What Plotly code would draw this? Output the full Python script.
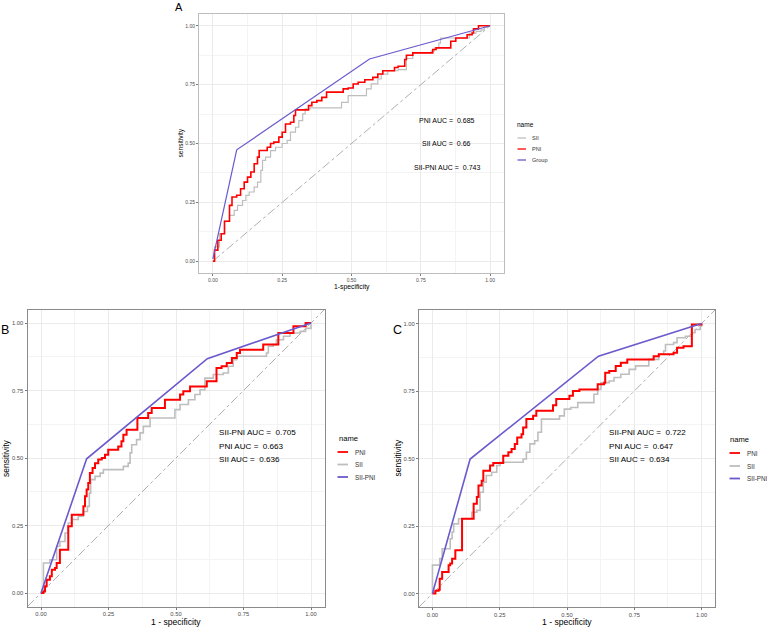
import plotly.graph_objects as go

W, H = 767, 630
FONT = "Liberation Sans, Arial, sans-serif"

# ---------------- data ----------------
# Panel A
A_sii_fpr = [0, 0.006, 0.024, 0.042, 0.06, 0.077, 0.089, 0.107, 0.119, 0.131, 0.149, 0.161, 0.173, 0.179, 0.19, 0.208, 0.226, 0.25, 0.268, 0.28, 0.298, 0.31, 0.324, 0.333, 0.351, 0.452, 0.464, 0.488, 0.536, 0.554, 0.571, 0.595, 0.607, 0.631, 0.668, 0.698, 0.721, 0.787, 0.799, 0.815, 0.821, 0.899, 0.925, 0.949, 0.967, 0.979, 0.99, 1.0]
A_sii_tpr = [0, 0.061, 0.117, 0.17, 0.195, 0.216, 0.237, 0.258, 0.28, 0.294, 0.315, 0.336, 0.386, 0.428, 0.442, 0.47, 0.484, 0.5, 0.513, 0.548, 0.569, 0.597, 0.626, 0.647, 0.651, 0.651, 0.675, 0.703, 0.703, 0.732, 0.753, 0.774, 0.795, 0.809, 0.814, 0.861, 0.885, 0.892, 0.906, 0.926, 0.948, 0.948, 0.969, 0.976, 0.983, 0.993, 1.0, 1.0]
A_pni_fpr = [0, 0.006, 0.018, 0.03, 0.042, 0.06, 0.06, 0.069, 0.086, 0.1, 0.1, 0.113, 0.125, 0.137, 0.149, 0.161, 0.167, 0.185, 0.196, 0.208, 0.22, 0.238, 0.25, 0.262, 0.28, 0.292, 0.298, 0.333, 0.345, 0.357, 0.375, 0.393, 0.41, 0.452, 0.47, 0.488, 0.506, 0.524, 0.548, 0.577, 0.595, 0.613, 0.655, 0.668, 0.692, 0.698, 0.721, 0.787, 0.793, 0.805, 0.846, 0.858, 0.876, 0.905, 0.917, 0.935, 0.94, 0.958, 1.0]
A_pni_tpr = [0, 0.047, 0.089, 0.117, 0.17, 0.17, 0.237, 0.273, 0.28, 0.287, 0.308, 0.336, 0.357, 0.379, 0.414, 0.442, 0.47, 0.47, 0.484, 0.5, 0.506, 0.527, 0.548, 0.583, 0.59, 0.619, 0.643, 0.643, 0.661, 0.675, 0.682, 0.696, 0.718, 0.718, 0.732, 0.736, 0.753, 0.76, 0.771, 0.781, 0.795, 0.809, 0.823, 0.828, 0.857, 0.875, 0.885, 0.885, 0.899, 0.906, 0.906, 0.934, 0.948, 0.948, 0.962, 0.969, 0.987, 1.0, 1.0]
A_grp_fpr = [0, 0.086, 0.565, 1.0]
A_grp_tpr = [0.01, 0.473, 0.859, 1.0]

# Panel B
B_pni_fpr = [0, 0.009, 0.015, 0.021, 0.033, 0.04, 0.052, 0.058, 0.07, 0.07, 0.101, 0.101, 0.114, 0.151, 0.157, 0.163, 0.169, 0.175, 0.181, 0.191, 0.2, 0.212, 0.225, 0.237, 0.249, 0.28, 0.286, 0.298, 0.305, 0.317, 0.354, 0.357, 0.391, 0.397, 0.41, 0.453, 0.459, 0.509, 0.515, 0.527, 0.552, 0.607, 0.614, 0.644, 0.65, 0.669, 0.688, 0.707, 0.725, 0.737, 0.81, 0.823, 0.867, 0.879, 0.922, 0.935, 0.96, 0.98, 1.0]
B_pni_tpr = [0, 0.006, 0.025, 0.049, 0.062, 0.086, 0.093, 0.111, 0.111, 0.16, 0.16, 0.247, 0.29, 0.29, 0.321, 0.358, 0.383, 0.407, 0.444, 0.463, 0.481, 0.494, 0.5, 0.512, 0.531, 0.531, 0.543, 0.562, 0.586, 0.605, 0.605, 0.648, 0.648, 0.667, 0.685, 0.685, 0.716, 0.716, 0.735, 0.747, 0.765, 0.765, 0.784, 0.784, 0.833, 0.84, 0.852, 0.87, 0.889, 0.901, 0.901, 0.92, 0.92, 0.963, 0.963, 0.988, 0.988, 1.0, 1.0]
B_sii_fpr = [0, 0.009, 0.033, 0.033, 0.052, 0.058, 0.07, 0.089, 0.101, 0.114, 0.138, 0.157, 0.172, 0.179, 0.184, 0.2, 0.219, 0.231, 0.28, 0.305, 0.323, 0.33, 0.336, 0.354, 0.367, 0.379, 0.404, 0.484, 0.496, 0.515, 0.546, 0.57, 0.589, 0.607, 0.607, 0.638, 0.675, 0.694, 0.712, 0.725, 0.81, 0.835, 0.842, 0.86, 0.872, 0.898, 0.922, 0.96, 0.98, 1.0]
B_sii_tpr = [0, 0.111, 0.111, 0.123, 0.123, 0.173, 0.191, 0.222, 0.259, 0.272, 0.284, 0.302, 0.321, 0.37, 0.42, 0.432, 0.444, 0.457, 0.457, 0.469, 0.481, 0.519, 0.549, 0.568, 0.593, 0.617, 0.648, 0.648, 0.679, 0.698, 0.716, 0.735, 0.753, 0.778, 0.796, 0.809, 0.815, 0.84, 0.864, 0.877, 0.877, 0.889, 0.914, 0.92, 0.938, 0.951, 0.963, 0.969, 0.98, 1.0]
B_grp_fpr = [0, 0.169, 0.616, 1.0]
B_grp_tpr = [0, 0.497, 0.868, 1.0]

# Panel C
C_pni_fpr = [0, 0.009, 0.011, 0.023, 0.027, 0.036, 0.054, 0.06, 0.066, 0.073, 0.079, 0.085, 0.11, 0.11, 0.15, 0.153, 0.165, 0.171, 0.183, 0.189, 0.2, 0.214, 0.226, 0.251, 0.263, 0.282, 0.294, 0.306, 0.315, 0.331, 0.337, 0.349, 0.374, 0.386, 0.442, 0.448, 0.46, 0.497, 0.509, 0.522, 0.546, 0.601, 0.614, 0.638, 0.642, 0.657, 0.681, 0.7, 0.724, 0.81, 0.822, 0.841, 0.896, 0.909, 0.933, 0.964, 0.964, 0.995, 1.0]
C_pni_tpr = [0, 0, 0.01, 0.014, 0.055, 0.08, 0.08, 0.105, 0.111, 0.129, 0.129, 0.16, 0.16, 0.277, 0.277, 0.332, 0.357, 0.4, 0.418, 0.455, 0.455, 0.474, 0.483, 0.483, 0.51, 0.523, 0.535, 0.554, 0.578, 0.59, 0.615, 0.646, 0.658, 0.677, 0.677, 0.697, 0.72, 0.72, 0.732, 0.75, 0.756, 0.756, 0.775, 0.781, 0.818, 0.824, 0.843, 0.855, 0.867, 0.867, 0.879, 0.886, 0.892, 0.91, 0.916, 0.922, 0.996, 0.996, 1.0]
C_sii_fpr = [0, 0, 0.023, 0.027, 0.036, 0.054, 0.066, 0.073, 0.079, 0.097, 0.14, 0.146, 0.165, 0.177, 0.189, 0.2, 0.22, 0.239, 0.251, 0.325, 0.337, 0.349, 0.362, 0.38, 0.392, 0.405, 0.472, 0.49, 0.514, 0.54, 0.59, 0.6, 0.614, 0.626, 0.657, 0.675, 0.7, 0.731, 0.755, 0.804, 0.841, 0.859, 0.866, 0.896, 0.909, 0.94, 0.964, 0.976, 0.995, 1.0]
C_sii_tpr = [0, 0.105, 0.105, 0.129, 0.166, 0.166, 0.203, 0.228, 0.258, 0.277, 0.277, 0.301, 0.308, 0.375, 0.412, 0.437, 0.449, 0.474, 0.486, 0.486, 0.498, 0.523, 0.554, 0.566, 0.597, 0.646, 0.658, 0.683, 0.689, 0.707, 0.707, 0.738, 0.756, 0.781, 0.787, 0.8, 0.812, 0.83, 0.843, 0.867, 0.886, 0.898, 0.922, 0.929, 0.947, 0.953, 0.966, 0.978, 0.99, 1.0]
C_grp_fpr = [0, 0.14, 0.617, 1.0]
C_grp_tpr = [0, 0.498, 0.879, 1.0]

A_auc_labels = ["PNI AUC =  0.685", "SII AUC =  0.66", "SII-PNI AUC =  0.743"]
B_auc_labels = ["SII-PNI AUC =  0.705", "PNI AUC =  0.663", "SII AUC =  0.636"]
C_auc_labels = ["SII-PNI AUC =  0.722", "PNI AUC =  0.647", "SII AUC =  0.634"]

A_legend = ["SII", "PNI", "Group"]
BC_legend = ["PNI", "SII", "SII-PNI"]

tick_vals = [0, 0.25, 0.5, 0.75, 1.0]
tick_text = ["0.00", "0.25", "0.50", "0.75", "1.00"]

RED = "#FF0000"
GREY = "#BEBEBE"
BLUE = "#6A5ACD"
COLORS = {"PNI": RED, "SII": GREY, "Group": BLUE, "SII-PNI": BLUE}

def px(x):
    return x / W

def py(y):
    return 1 - y / H

# ---------------- figure ----------------
fig = go.Figure()

panels = {
    "A": dict(ax="", dom_x=(199, 504), dom_y=(14, 273), tick=5, border="#BDBDBD"),
    "B": dict(ax="2", dom_x=(27.5, 324.5), dom_y=(309.5, 606.5), tick=5.8, border="#8A8A8A"),
    "C": dict(ax="3", dom_x=(419, 715), dom_y=(310, 607), tick=5.8, border="#8A8A8A"),
}

def add_line(ax, xs, ys, color, width, name):
    fig.add_trace(go.Scatter(x=xs, y=ys, mode="lines", name=name,
                             line=dict(color=color, width=width, shape="hv"),
                             xaxis="x" + ax, yaxis="y" + ax, showlegend=False))

def add_seg(ax, xs, ys, color, width, name, dash=None):
    fig.add_trace(go.Scatter(x=xs, y=ys, mode="lines", name=name,
                             line=dict(color=color, width=width, dash=dash),
                             xaxis="x" + ax, yaxis="y" + ax, showlegend=False))

# diagonals
add_seg("", [0, 1], [0, 1], "#9A9A9A", 0.8, "ref", "dashdot")
add_seg("2", [-0.05, 1.05], [-0.05, 1.05], "#9A9A9A", 0.8, "ref", "dashdot")
add_seg("3", [-0.05, 1.05], [-0.05, 1.05], "#9A9A9A", 0.8, "ref", "dashdot")

# Panel A
add_line("", A_sii_fpr, A_sii_tpr, GREY, 1.2, "SII")
add_line("", A_pni_fpr, A_pni_tpr, RED, 1.6, "PNI")
add_seg("", A_grp_fpr, A_grp_tpr, BLUE, 1.2, "Group")
# Panel B
add_line("2", B_sii_fpr, B_sii_tpr, GREY, 1.6, "SII")
add_line("2", B_pni_fpr, B_pni_tpr, RED, 2.0, "PNI")
add_seg("2", B_grp_fpr, B_grp_tpr, BLUE, 1.6, "SII-PNI")
# Panel C
add_line("3", C_sii_fpr, C_sii_tpr, GREY, 1.6, "SII")
add_line("3", C_pni_fpr, C_pni_tpr, RED, 2.0, "PNI")
add_seg("3", C_grp_fpr, C_grp_tpr, BLUE, 1.6, "SII-PNI")

layout = dict(width=W, height=H, margin=dict(l=0, r=0, t=0, b=0),
              paper_bgcolor="white", plot_bgcolor="white", showlegend=False,
              font=dict(family=FONT, color="#4D4D4D"))
for key, p in panels.items():
    ax = p["ax"]
    common = dict(range=[-0.05, 1.05], tickvals=tick_vals, ticktext=tick_text,
                  showgrid=True, gridcolor="#EBEBEB", gridwidth=1,
                  minor=dict(dtick=0.125, tick0=0.125, showgrid=True, gridcolor="#F4F4F4", gridwidth=0.6),
                  zeroline=False, showline=True, mirror=True, linecolor=p["border"], linewidth=1,
                  ticks="outside", ticklen=2, tickcolor="#7A7A7A", tickwidth=0.8,
                  tickfont=dict(size=p["tick"], color="#4D4D4D", family=FONT), fixedrange=True)
    layout["xaxis" + ax] = dict(common, domain=[px(p["dom_x"][0]), px(p["dom_x"][1])],
                                anchor="y" + ax)
    layout["yaxis" + ax] = dict(common, domain=[py(p["dom_y"][1]), py(p["dom_y"][0])],
                                anchor="x" + ax)
fig.update_layout(**layout)

ann = []
shapes = []
def text(x, y, s, size, color="black", xanchor="center", angle=0, xref="paper", yref="paper"):
    s = s.replace("  ", " \u00a0")
    ann.append(dict(x=x, y=y, text=s, xref=xref, yref=yref, showarrow=False,
                    xanchor=xanchor, yanchor="middle", textangle=angle,
                    font=dict(size=size, color=color, family=FONT)))

# panel tags
text(px(179), py(7), "A", 11)
text(px(5), py(330), "B", 12.5)
text(px(397), py(330), "C", 12.5)

# axis titles
text(px(352), py(287), "1-specificity", 6.8)
text(px(181), py(143.5), "sensitivity", 6.6, angle=-90)
text(px(176), py(622), "1 - specificity", 8.6)
text(px(6), py(458), "sensitivity", 8.5, angle=-90)
text(px(567), py(622), "1 - specificity", 8.6)
text(px(397.5), py(458), "sensitivity", 8.5, angle=-90)

# AUC annotations
for s, yv in zip(A_auc_labels, [0.597, 0.5, 0.398]):
    text(0.843, yv, s, 7.0, xref="x", yref="y")
for s, yv in zip(B_auc_labels, [0.596, 0.544, 0.496]):
    text(0.652, yv, s, 8.1, xanchor="left", xref="x2", yref="y2")
for s, yv in zip(C_auc_labels, [0.598, 0.546, 0.498]):
    text(0.649, yv, s, 8.1, xanchor="left", xref="x3", yref="y3")

# legends
def legend(x_title, y_title, items, ys, key_x0, key_x1, text_x, tsize, isize, lw):
    text(px(x_title), py(y_title), "name", tsize, xanchor="left")
    for name, yy in zip(items, ys):
        shapes.append(dict(type="line", xref="paper", yref="paper",
                           x0=px(key_x0), x1=px(key_x1), y0=py(yy), y1=py(yy),
                           line=dict(color=COLORS[name], width=lw)))
        text(px(text_x), py(yy), name, isize, color="#333333", xanchor="left")

legend(514.5, 125, A_legend, [138, 149, 160], 517.5, 526, 530, 6.5, 5.6, 1.3)
legend(336.5, 438, BC_legend, [452, 464.5, 477], 337.5, 348, 352.5, 7.6, 6.3, 1.8)
legend(727.5, 439, BC_legend, [453, 466, 478.5], 729.5, 740, 744.5, 7.6, 6.3, 1.8)

fig.update_layout(annotations=ann, shapes=shapes)
fig.write_html("out.html")
